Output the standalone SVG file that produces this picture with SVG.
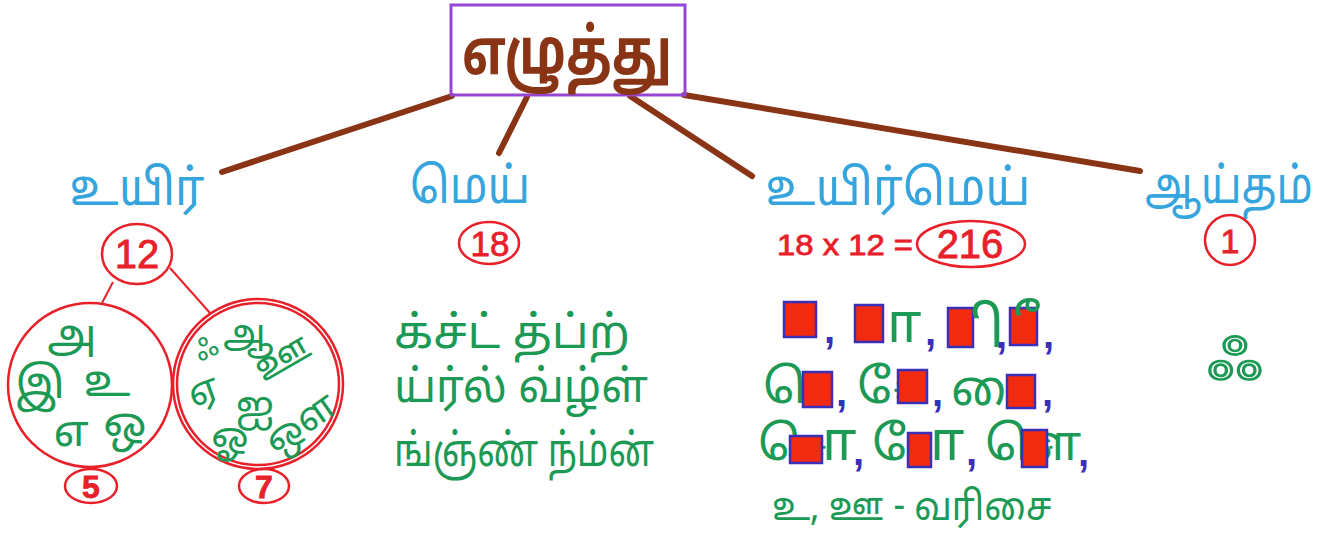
<svg xmlns="http://www.w3.org/2000/svg" width="1340" height="535" viewBox="0 0 1340 535">
<style>
.ta{font-family:"Noto Sans Tamil","Latha","Noto Sans","DejaVu Sans",sans-serif;}
.head{fill:#36a5dd;font-size:50px;text-anchor:middle;}
.grn{fill:#1c9a55;}
.red{fill:#e8202a;stroke:#e8202a;stroke-width:0.8;font-family:"Liberation Sans",sans-serif;text-anchor:middle;}
.rc{fill:none;stroke:#e8202a;stroke-width:2.5;}
.conn{stroke:#8a3416;stroke-width:6;stroke-linecap:round;fill:none;}
.sq{fill:#f22a10;stroke:#3a2fb8;stroke-width:2.5;}
.cm{fill:#3a2fb8;font-family:"Liberation Sans",sans-serif;font-size:40px;font-weight:bold;}
.vs{fill:#1c9a55;font-size:48px;}
.aa{fill:#1c9a55;font-size:54px;}
.ii{fill:#1c9a55;font-size:56px;}
</style>
<rect width="1340" height="535" fill="#ffffff"/>
<g id="connectors">
<line class="conn" x1="452" y1="96" x2="222" y2="172"/>
<line class="conn" x1="527" y1="97" x2="499" y2="153"/>
<line class="conn" x1="630" y1="96" x2="752" y2="176"/>
<line class="conn" x1="684" y1="95" x2="1140" y2="171"/>
<line stroke="#e8202a" stroke-width="2" x1="113" y1="282" x2="102" y2="303"/>
<line stroke="#e8202a" stroke-width="2" x1="170" y1="268" x2="210" y2="313"/>
</g>
<g id="root">
<rect x="451" y="5" width="234" height="90" fill="none" stroke="#9646d2" stroke-width="3"/>
<text class="ta" x="567" y="74" fill="#8a3416" font-size="64" font-weight="bold" text-anchor="middle" textLength="210" lengthAdjust="spacingAndGlyphs">எழுத்து</text>
</g>
<g id="uyir">
<text class="ta head" x="137" y="205" textLength="135" lengthAdjust="spacingAndGlyphs">உயிர்</text>
<ellipse class="rc" cx="137" cy="254" rx="35" ry="30"/>
<text class="red" x="137" y="268" font-size="40">12</text>
<circle class="rc" cx="90" cy="385" r="82"/>
<g class="ta grn" font-size="44" text-anchor="middle">
<text x="72" y="350">அ</text>
<text x="40" y="398">இ</text>
<text x="107" y="396">உ</text>
<text x="71" y="446">எ</text>
<text x="125" y="438">ஒ</text>
</g>
<circle class="rc" cx="258" cy="384" r="85"/>
<circle class="rc" cx="258" cy="384" r="81"/>
<g class="ta grn" font-size="38" text-anchor="middle">
<text x="207" y="358" font-size="26" transform="rotate(-25 207 350)">ஃ</text>
<text x="248" y="346">ஆ</text>
<text x="282" y="370" transform="rotate(-30 282 357)">ஊ</text>
<text x="203" y="403" transform="rotate(-20 203 390)">ஏ</text>
<text x="255" y="418">ஐ</text>
<text x="230" y="449">ஓ</text>
<text x="300" y="436" transform="rotate(-35 300 422)">ஔ</text>
</g>
<ellipse class="rc" cx="91" cy="486" rx="26" ry="17"/>
<text class="red" x="91" y="498" font-size="32" font-weight="bold">5</text>
<ellipse class="rc" cx="264" cy="486" rx="25" ry="17"/>
<text class="red" x="264" y="498" font-size="32" font-weight="bold">7</text>
</g>
<g id="mei">
<text class="ta head" x="470" y="203" textLength="120" lengthAdjust="spacingAndGlyphs">மெய்</text>
<ellipse class="rc" cx="489" cy="243" rx="30" ry="21"/>
<text class="red" x="490" y="256" font-size="35">18</text>
<g class="ta grn" font-size="46">
<text x="394" y="348" textLength="236" lengthAdjust="spacingAndGlyphs">க்ச்ட் த்ப்ற்</text>
<text x="394" y="402" textLength="254" lengthAdjust="spacingAndGlyphs">ய்ர்ல் வ்ழ்ள்</text>
<text x="394" y="466" textLength="260" lengthAdjust="spacingAndGlyphs">ங்ஞ்ண் ந்ம்ன்</text>
</g>
</g>
<g id="uyirmei">
<text class="ta head" x="898" y="205" textLength="265" lengthAdjust="spacingAndGlyphs">உயிர்மெய்</text>
<text class="red" x="845" y="255" font-size="29" textLength="136" lengthAdjust="spacingAndGlyphs">18 x 12 =</text>
<ellipse class="rc" cx="971" cy="244" rx="54" ry="23"/>
<text class="red" x="970" y="258" font-size="40">216</text>
<!-- row 1 -->
<rect class="sq" x="784" y="302" width="32" height="35"/>
<text class="cm" x="824" y="343">,</text>
<rect class="sq" x="855" y="305" width="28" height="37"/>
<text class="ta aa" x="873" y="342">&#160;ா</text>
<text class="cm" x="925" y="345">,</text>
<rect class="sq" x="948" y="308" width="25" height="39"/>
<text class="ta ii" x="975" y="347">&#160;ி</text>
<text class="cm" x="996" y="348">,</text>
<rect class="sq" x="1010" y="308" width="27" height="37"/>
<text class="ta ii" x="1025" y="345">&#160;ீ</text>
<text class="cm" x="1043" y="348">,</text>
<!-- row 2 -->
<text class="ta vs" x="763" y="403">ெ&#160;</text>
<rect class="sq" x="803" y="372" width="29" height="35"/>
<text class="cm" x="836" y="406">,</text>
<text class="ta vs" x="857" y="403">ே&#160;</text>
<rect class="sq" x="898" y="370" width="29" height="33"/>
<text class="cm" x="932" y="406">,</text>
<text class="ta vs" x="951" y="405">ை&#160;</text>
<rect class="sq" x="1007" y="375" width="28" height="33"/>
<text class="cm" x="1042" y="406">,</text>
<!-- row 3 -->
<text class="ta vs" x="758" y="460">ெ&#160;</text>
<rect class="sq" x="790" y="436" width="32" height="27"/>
<text class="ta aa" x="808" y="460">&#160;ா</text>
<text class="cm" x="853" y="465">,</text>
<text class="ta vs" x="872" y="460">ே&#160;</text>
<rect class="sq" x="908" y="433" width="23" height="34"/>
<text class="ta aa" x="916" y="460">&#160;ா</text>
<text class="cm" x="966" y="465">,</text>
<text class="ta vs" x="985" y="460">ெ&#160;</text>
<text class="ta vs" x="1030" y="460">ள</text>
<rect class="sq" x="1022" y="430" width="25" height="37"/>
<text class="cm" x="1078" y="466">,</text>
<text class="ta grn" x="772" y="520" font-size="40" textLength="280" lengthAdjust="spacingAndGlyphs">உ, ஊ - வரிசை</text>
</g>
<g id="aytham">
<text class="ta head" x="1229" y="203" textLength="168" lengthAdjust="spacingAndGlyphs">ஆய்தம்</text>
<circle class="rc" cx="1230" cy="240" r="25"/>
<text class="red" x="1230" y="253" font-size="34">1</text>
<text class="ta" transform="translate(1235 379) scale(1.3 1.05)" font-size="48" text-anchor="middle" fill="none" stroke="#1c9a55" stroke-width="2.5">ஃ</text>
</g>
</svg>
